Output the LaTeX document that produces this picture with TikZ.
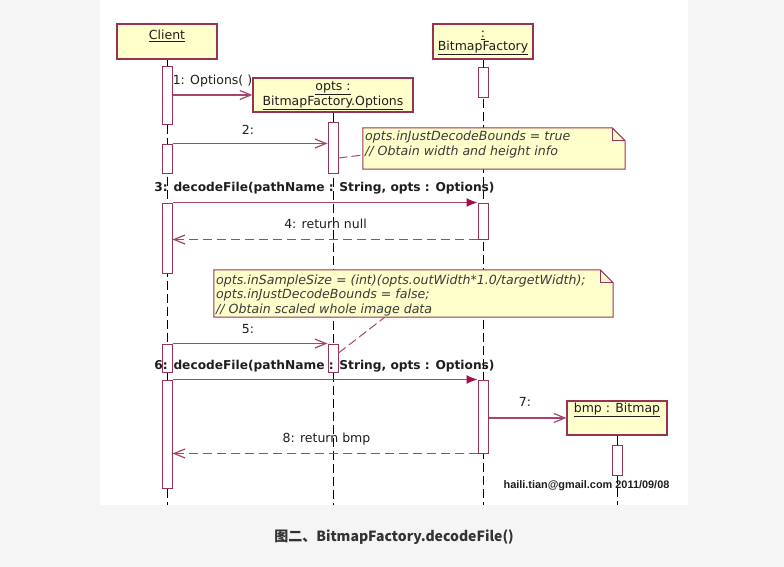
\documentclass[tikz,border=0pt]{standalone}
\usepackage{fontspec}
\setmainfont{DejaVu Sans}
\newfontfamily\sigfont{Liberation Sans}
\newfontfamily\cjkfont{Noto Sans CJK SC}
\usetikzlibrary{arrows.meta,calc}
\definecolor{bggrey}{HTML}{F5F5F5}
\definecolor{boxfill}{HTML}{FFFFCC}
\definecolor{boxline}{HTML}{993355}
\definecolor{msgline}{HTML}{A8446E}
\definecolor{headfill}{HTML}{A0104A}
\definecolor{txt}{HTML}{1E1E1E}
\definecolor{notetxt}{HTML}{3A3A3A}
\definecolor{captxt}{HTML}{333333}
\begin{document}
\begin{tikzpicture}[x=1pt,y=-1pt,
  objbox/.style={draw=boxline, fill=boxfill, line width=1.1pt, inner sep=0pt},
  objtext/.style={text=txt, font=\fontsize{12.5}{13}\selectfont, inner sep=0pt, align=center},
  act/.style={draw=boxline, fill=white, line width=1pt, minimum width=10pt, inner sep=0pt},
  lifeline/.style={draw=black, line width=0.9pt, dash pattern=on 9pt off 4pt},
  callmsg/.style={draw=msgline, line width=1.2pt, -{Straight Barb[length=11pt,width=9pt]}},
  syncmsg/.style={draw=msgline, line width=1.2pt, -{Latex[length=11pt,width=9pt,fill=headfill,color=headfill]}},
  retmsg/.style={callmsg, dash pattern=on 9pt off 5pt},
  lbl/.style={text=txt, font=\fontsize{12.5}{14}\selectfont, inner sep=0pt},
  blbl/.style={text=txt, font=\bfseries\fontsize{12.2}{14}\selectfont, inner sep=0pt},
  notebox/.style={fill=boxfill, draw=boxline, line width=1pt},
  notefold/.style={draw=boxline, line width=1pt},
  noteanchor/.style={draw=msgline, line width=1pt, dash pattern=on 9pt off 4pt},
  notetext/.style={text=notetxt, font=\itshape\fontsize{12.6}{14.5}\selectfont, align=left, inner sep=0pt, anchor=west},
]
\useasboundingbox (0,0) rectangle (784,567);
\fill[bggrey] (0,0) rectangle (784,567);
\fill[white] (100,0) rectangle (688,505);
\coordinate (bottom) at (0,505);

% object boxes
\node[objbox, minimum width=100pt, minimum height=35pt] (client) at (167,41.5) {};
\node[objbox, minimum width=100pt, minimum height=35pt] (bf) at (483,41.5) {};
\node[objbox, minimum width=160pt, minimum height=34pt] (opts) at (333,95) {};
\node[objbox, minimum width=100pt, minimum height=34pt] (bmp) at (617,418) {};

% lifelines
\draw[lifeline] (client.south) -- (client.south |- bottom);
\draw[lifeline] (bf.south) -- (bf.south |- bottom);
\draw[lifeline] (opts.south) -- (opts.south |- bottom);
\draw[lifeline] (bmp.south) -- (bmp.south |- bottom);

% object texts
\node[objtext] (clientt) at (167,36) {\underline{Client}};
\node[objtext] (bft) at (483,43) {\underline{:}\\\underline{BitmapFactory}};
\node[objtext, font=\fontsize{12.5}{14}\selectfont] (optst) at (333,96) {\underline{opts :}\\\underline{BitmapFactory.Options}};
\node[objtext] (bmpt) at (617,410) {\underline{bmp : Bitmap}};

% activations
\node[act, minimum height=58pt] (ca1) at (167,96) {};
\node[act, minimum height=29pt] (ca2) at (167,158.5) {};
\node[act, minimum height=70pt] (ca3) at (167,238) {};
\node[act, minimum height=28pt] (ca4) at (167,358) {};
\node[act, minimum height=108pt] (ca5) at (167,434) {};
\node[act, minimum height=50pt] (oa1) at (333,148) {};
\node[act, minimum height=28pt] (oa2) at (333,358) {};
\node[act, minimum height=30pt] (ba1) at (483,83) {};
\node[act, minimum height=36pt] (ba2) at (483,221) {};
\node[act, minimum height=73pt] (ba3) at (483,416.5) {};
\node[act, minimum height=30pt] (ma1) at (617,460) {};

% messages
\draw[callmsg] (ca1.east |- opts.west) -- (opts.west);
\draw[callmsg] (ca2.north east) -- (oa1.west |- ca2.north);
\draw[syncmsg] (ca3.north east) -- (ba2.north west);
\draw[retmsg] (ba2.south west) -- (ca3.east |- ba2.south);
\draw[callmsg] (ca4.north east) -- (oa2.north west);
\draw[syncmsg] (ca5.north east) -- (ba3.north west);
\draw[callmsg] (ba3.east |- bmp.west) -- (bmp.west);
\draw[retmsg] (ba3.south west) -- (ca5.east |- ba3.south);

% notes
\node[minimum width=262pt, minimum height=41pt, inner sep=0pt] (note1) at (494,148.5) {};
\path[notebox] (note1.north west) -- ($(note1.north east)+(-13,0)$) -- ($(note1.north east)+(0,13)$) -- (note1.south east) -- (note1.south west) -- cycle;
\draw[notefold] ($(note1.north east)+(-13,0)$) -- ($(note1.north east)+(-13,13)$) -- ($(note1.north east)+(0,13)$);
\node[notetext] (note1t) at (365,144.5) {opts.inJustDecodeBounds = true\\// Obtain width and height info};
\draw[noteanchor] ($(oa1.east)+(0,10)$) -- ($(note1.west)+(0,6.5)$);

\node[minimum width=399pt, minimum height=47pt, inner sep=0pt] (note2) at (413.5,293.5) {};
\path[notebox] (note2.north west) -- ($(note2.north east)+(-13,0)$) -- ($(note2.north east)+(0,13)$) -- (note2.south east) -- (note2.south west) -- cycle;
\draw[notefold] ($(note2.north east)+(-13,0)$) -- ($(note2.north east)+(-13,13)$) -- ($(note2.north east)+(0,13)$);
\node[notetext] (note2t) at (216,295.5) {opts.inSampleSize = (int)(opts.outWidth*1.0/targetWidth);\\opts.inJustDecodeBounds = false;\\// Obtain scaled whole image data};
\draw[noteanchor] ($(oa2.east)+(0,-5)$) -- ($(note2.south west)+(171,0)$);

% message labels
\node[lbl] (l1) at (212.5,81) {1: Options( )};
\node[lbl] (l2) at (248,130) {2:};
\node[blbl] (l3) at (324.5,188) {3: decodeFile(pathName : String, opts : Options)};
\node[lbl] (l4) at (325.5,224) {4: return null};
\node[lbl] (l5) at (248,329) {5:};
\node[blbl] (l6) at (324.5,366) {6: decodeFile(pathName : String, opts : Options)};
\node[lbl] (l7) at (525,402) {7:};
\node[lbl] (l8) at (326.5,439) {8: return bmp};

% signature and caption
\node[text=txt, font=\sigfont\bfseries\fontsize{10.9}{12}\selectfont, inner sep=0pt] (sig) at (586.5,486) {haili.tian@gmail.com 2011/09/08};
\node[text=captxt, font=\cjkfont\bfseries\fontsize{14}{16}\selectfont, inner sep=0pt] (cap) at (394,537) {图二、BitmapFactory.decodeFile()};
\end{tikzpicture}
\end{document}
